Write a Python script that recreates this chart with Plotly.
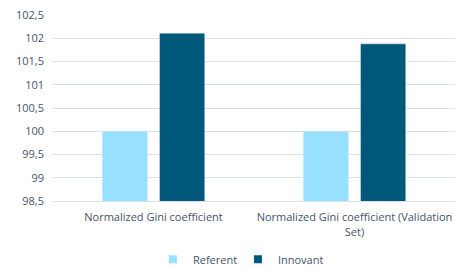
import plotly.graph_objects as go

categories = ["Normalized Gini coefficient", "Normalized Gini coefficient (Validation<br>Set)"]
series_names = ["Referent", "Innovant"]
referent = [100.0, 100.0]
innovant = [102.11, 101.88]
tick_vals = [98.5, 99, 99.5, 100, 100.5, 101, 101.5, 102, 102.5]
tick_text = ["98,5", "99", "99,5", "100", "100,5", "101", "101,5", "102", "102,5"]

colors = ["#97E0FF", "#00587A"]
font_color = "#44546A"
fig = go.Figure()
for name, vals, c in zip(series_names, [referent, innovant], colors):
    fig.add_trace(go.Bar(name=name, x=categories, y=vals, marker_color=c, showlegend=False))
for name, c in zip(series_names, colors):
    fig.add_trace(go.Scatter(name=name, x=[None], y=[None], mode="markers",
                             marker=dict(symbol="square", size=8, color=c), showlegend=True))
fig.update_layout(
    width=457, height=268,
    margin=dict(l=53, r=2, t=15, b=67, autoexpand=False),
    paper_bgcolor="white", plot_bgcolor="white",
    barmode="group", bargap=0.43, bargroupgap=0.21,
    font=dict(family="Open Sans", size=11, color=font_color),
    showlegend=True,
    legend=dict(orientation="h", x=0.46, xanchor="center", y=-0.235, yanchor="top",
                font=dict(size=11, color=font_color), itemwidth=30, tracegroupgap=0,
                entrywidth=40, bgcolor="rgba(0,0,0,0)"),
)
fig.update_yaxes(range=[98.5, 102.5], tickvals=tick_vals, ticktext=tick_text,
                 showgrid=True, gridcolor="#DCDFEE", gridwidth=1, zeroline=False,
                 showline=False, ticks="", automargin=False, ticklabelstandoff=8,
                 tickfont=dict(size=11, color=font_color))
fig.update_xaxes(showline=True, linecolor="#DCDFEE", linewidth=1, ticks="", automargin=False,
                 ticklabelstandoff=6, tickfont=dict(size=11, color=font_color))
fig.write_html("out.html", config={"displayModeBar": False},
               post_script="document.body.style.margin='0';document.body.style.overflow='hidden';")
